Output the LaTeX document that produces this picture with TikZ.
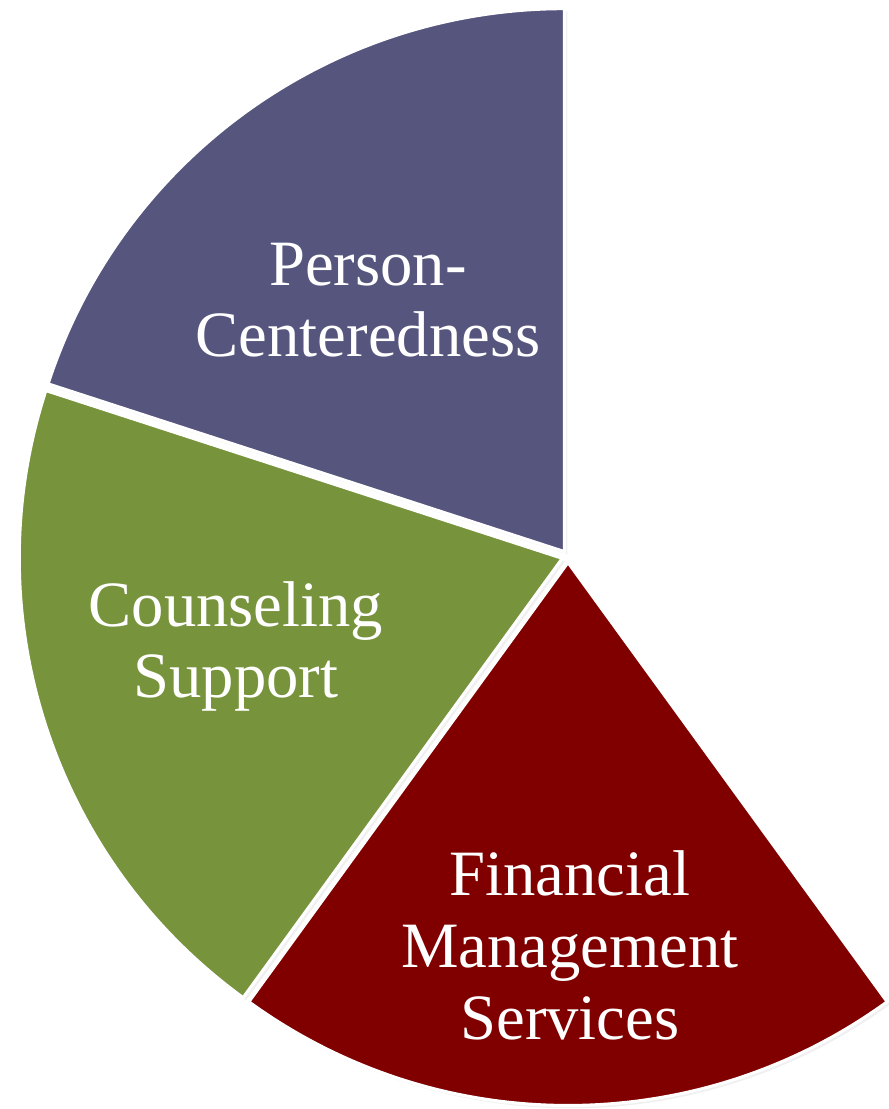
\documentclass[tikz,border=0pt]{standalone}
\usepackage{fontspec}
\setmainfont{Liberation Serif}
\usetikzlibrary{calc}
\definecolor{color_person}{HTML}{56557E}
\definecolor{color_counsel}{HTML}{77933C}
\definecolor{color_finance}{HTML}{800000}

\begin{document}
\begin{tikzpicture}[
    font=\fontsize{46}{51}\selectfont,
    wedge/.style={fill=#1, draw=white, line width=2.2pt, line join=miter},
    wedge_shadow/.style={fill=black!6, draw=none},
    wedge_text/.style={text=white, align=center, inner sep=0pt}
]
\useasboundingbox (0,0) rectangle (22.225,27.725);
\coordinate (c) at (14.2,13.8125);

%% ============================================================
%% PIE WEDGES (three slices of 72 deg, pulled out a little)
%% ============================================================
\foreach \col/\a/\b in {color_person/90/162, color_counsel/162/234, color_finance/234/306} {
    \pgfmathsetmacro{\angmid}{(\a+\b)/2}
    \coordinate (tip) at ($(c)+(\angmid:0.15)$);
    \fill[wedge_shadow] ($(tip)+(0.07,-0.07)$) -- ++(\a:13.575)
        arc[start angle=\a, end angle=\b, radius=13.575] -- cycle;
    \draw[wedge=\col] (tip) -- ++(\a:13.575)
        arc[start angle=\a, end angle=\b, radius=13.575] -- cycle;
}

%% --- Labels ---
\node[wedge_text] (person) at (9.2,20.225) {Person-\\Centeredness};
\node[wedge_text] (counsel) at (5.9,11.5625) {Counseling\\Support};
\node[wedge_text] (finance) at (14.25,4.0875) {Financial\\Management\\Services};

\end{tikzpicture}
\end{document}
